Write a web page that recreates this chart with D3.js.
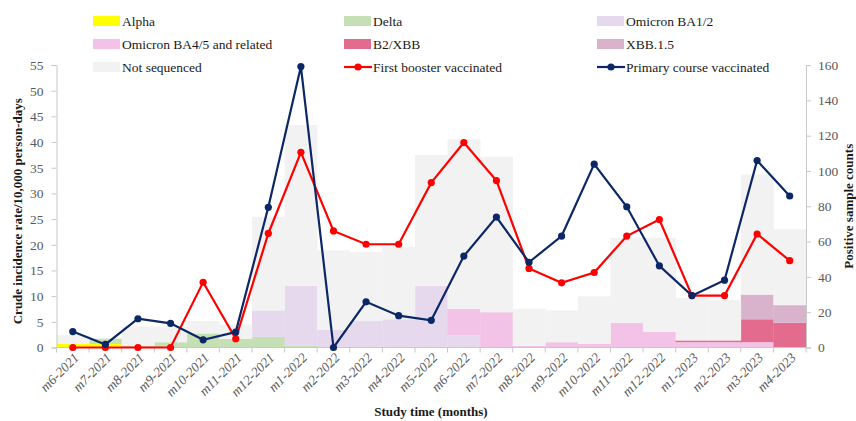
<!DOCTYPE html>
<html>
<head>
<meta charset="utf-8">
<script src="https://cdn.jsdelivr.net/npm/d3@7/dist/d3.min.js"></script>
<style>
  html, body { margin: 0; padding: 0; background: #ffffff; }
  svg text { font-family: "Liberation Serif", "DejaVu Serif", serif; }
</style>
</head>
<body>
<svg id="chart" width="856" height="421"></svg>
<script>
// Study months
const months = ["m6-2021","m7-2021","m8-2021","m9-2021","m10-2021","m11-2021","m12-2021",
  "m1-2022","m2-2022","m3-2022","m4-2022","m5-2022","m6-2022","m7-2022","m8-2022",
  "m9-2022","m10-2022","m11-2022","m12-2022","m1-2023","m2-2023","m3-2023","m4-2023"];

// Positive sample counts by variant (right axis)
const alpha        = [2,2,0,0,0,0,0, 0,0,0,0,0,0,0,0, 0,0,0,0,0,0,0,0];
const delta        = [0,3,1,3,8,5,6, 1,0,0,0,0,0,0,0, 0,0,0,0,0,0,0,0];
const ba12         = [0,0,0,0,0,0,15, 34,10,15,16,35,7,0,0, 0,0,0,0,0,0,0,0];
const ba45         = [0,0,0,0,0,0,0, 0,0,0,0,0,15,20,1, 3,2,14,9,3,3,3,0];
const b2xbb        = [0,0,0,0,0,0,0, 0,0,0,0,0,0,0,0, 0,0,0,0,1,1,13,14];
const xbb15        = [0,0,0,0,0,0,0, 0,0,0,0,0,0,0,0, 0,0,0,0,0,0,14,10];
const notSequenced = [5,0,11,9,7,8,53, 91,45,39,41,74,96,88,21, 18,27,48,53,24,23,68,43];

// Crude incidence rate per 10,000 person-days (left axis)
const firstBooster  = [0,0,0,0,12.7,1.7,22.2, 38.0,22.7,20.1,20.1,32.1,39.9,32.5,15.4,
  12.6,14.6,21.7,24.9,10.1,10.1,22.1,16.9];
const primaryCourse = [3.1,0.6,5.6,4.7,1.5,3.0,27.3, 54.7,0,8.9,6.2,5.3,17.8,25.4,16.6,
  21.7,35.7,27.4,15.9,10.1,13.1,36.4,29.5];

const leftTicks  = d3.range(0, 56, 5);
const rightTicks = d3.range(0, 161, 20);

const variantSeries = [
  { key: "Alpha", values: alpha, color: "#ffff00" },
  { key: "Delta", values: delta, color: "#c5e0b4" },
  { key: "Omicron BA1/2", values: ba12, color: "#e6d9ee" },
  { key: "Omicron BA4/5 and related", values: ba45, color: "#f2c3e6" },
  { key: "B2/XBB", values: b2xbb, color: "#e26b8e" },
  { key: "XBB.1.5", values: xbb15, color: "#d9b3cb" },
  { key: "Not sequenced", values: notSequenced, color: "#f2f2f2" }
];
const lineSeries = [
  { key: "First booster vaccinated", values: firstBooster, color: "#ff0000" },
  { key: "Primary course vaccinated", values: primaryCourse, color: "#0c2766" }
];

const svg = d3.select("#chart");
const plot = { left: 56.5, right: 806, top: 65, bottom: 347.5 };

const x = d3.scaleBand().domain(months).range([plot.left, plot.right]).padding(0);
const yLeft = d3.scaleLinear().domain([0, 55]).range([plot.bottom, plot.top]);
const yRight = d3.scaleLinear().domain([0, 160]).range([plot.bottom, plot.top]);

// Stacked variant bars
const table = months.map((m, i) => {
  const row = { month: m };
  variantSeries.forEach(s => row[s.key] = s.values[i]);
  return row;
});
const stack = d3.stack().keys(variantSeries.map(s => s.key))(table);

svg.append("g").selectAll("g")
  .data(stack)
  .join("g")
    .attr("fill", (d, i) => variantSeries[i].color)
  .selectAll("rect")
  .data(d => d)
  .join("rect")
    .attr("x", d => x(d.data.month))
    .attr("width", x.bandwidth() + 0.3)
    .attr("y", d => yRight(d[1]))
    .attr("height", d => Math.max(0, yRight(d[0]) - yRight(d[1])));

// Axes
const axisColor = "#c8c8c8";
const labelColor = "#595959";

const gx = svg.append("g").attr("transform", `translate(0,${plot.bottom})`);
gx.append("line").attr("x1", plot.left).attr("x2", plot.right).attr("stroke", axisColor);
gx.selectAll("line.tick")
  .data(months.concat(["end"]))
  .join("line").attr("class", "tick")
    .attr("x1", (d, i) => plot.left + i * x.step())
    .attr("x2", (d, i) => plot.left + i * x.step())
    .attr("y1", 0).attr("y2", 5)
    .attr("stroke", axisColor);
gx.selectAll("text")
  .data(months)
  .join("text")
    .attr("transform", d => `translate(${x(d) + x.bandwidth() / 2 + 7},${11}) rotate(-45)`)
    .attr("text-anchor", "end")
    .attr("font-size", 13.5)
    .attr("font-style", "italic")
    .attr("fill", labelColor)
    .text(d => d);

const gl = svg.append("g").attr("transform", `translate(${plot.left},0)`)
  .call(d3.axisLeft(yLeft).tickValues(leftTicks).tickSize(5).tickPadding(8));
const gr = svg.append("g").attr("transform", `translate(${plot.right},0)`)
  .call(d3.axisRight(yRight).tickValues(rightTicks).tickSize(5).tickPadding(7));
[gl, gr].forEach(g => {
  g.select(".domain").attr("stroke", axisColor);
  g.selectAll(".tick line").attr("stroke", axisColor);
  g.selectAll(".tick text")
    .attr("fill", labelColor)
    .attr("font-size", 13.5)
    .attr("font-family", "Liberation Serif, serif");
});

// Incidence lines
const line = d3.line()
  .x((d, i) => x(months[i]) + x.bandwidth() / 2)
  .y(d => yLeft(d));

lineSeries.forEach(s => {
  const g = svg.append("g");
  g.append("path")
    .datum(s.values)
    .attr("d", line)
    .attr("fill", "none")
    .attr("stroke", s.color)
    .attr("stroke-width", 2.2);
  g.selectAll("circle")
    .data(s.values)
    .join("circle")
      .attr("cx", (d, i) => x(months[i]) + x.bandwidth() / 2)
      .attr("cy", d => yLeft(d))
      .attr("r", 3.6)
      .attr("fill", s.color);
});

// Axis titles
svg.append("text")
  .attr("transform", `translate(22,${(plot.top + plot.bottom) / 2 + 5}) rotate(-90)`)
  .attr("text-anchor", "middle")
  .attr("font-size", 13)
  .attr("font-weight", "bold")
  .attr("fill", "#1a1a1a")
  .text("Crude incidence rate/10,000 person-days");
svg.append("text")
  .attr("transform", `translate(853,${(plot.top + plot.bottom) / 2}) rotate(-90)`)
  .attr("text-anchor", "middle")
  .attr("font-size", 13)
  .attr("font-weight", "bold")
  .attr("fill", "#1a1a1a")
  .text("Positive sample counts");
svg.append("text")
  .attr("x", 431).attr("y", 416)
  .attr("text-anchor", "middle")
  .attr("font-size", 13)
  .attr("font-weight", "bold")
  .attr("fill", "#1a1a1a")
  .text("Study time (months)");

// Legend: three columns, three rows
const legendItems = variantSeries.map(s => ({ key: s.key, color: s.color, type: "rect" }))
  .concat(lineSeries.map(s => ({ key: s.key, color: s.color, type: "line" })));
const colX = [93, 344, 597];
const rowY = [21, 44, 67];
const legend = svg.append("g");
legendItems.forEach((item, i) => {
  const cx = colX[i % 3], cy = rowY[Math.floor(i / 3)];
  const g = legend.append("g").attr("transform", `translate(${cx},${cy})`);
  if (item.type === "rect") {
    g.append("rect").attr("x", 0).attr("y", -5).attr("width", 27).attr("height", 10).attr("fill", item.color);
  } else {
    g.append("line").attr("x1", 0).attr("x2", 28).attr("y1", 0).attr("y2", 0)
      .attr("stroke", item.color).attr("stroke-width", 2.2);
    g.append("circle").attr("cx", 14).attr("cy", 0).attr("r", 3.6).attr("fill", item.color);
  }
  g.append("text")
    .attr("x", 29).attr("y", 4.5)
    .attr("font-size", 13.5)
    .attr("fill", "#1a1a1a")
    .text(item.key);
});
</script>
</body>
</html>
